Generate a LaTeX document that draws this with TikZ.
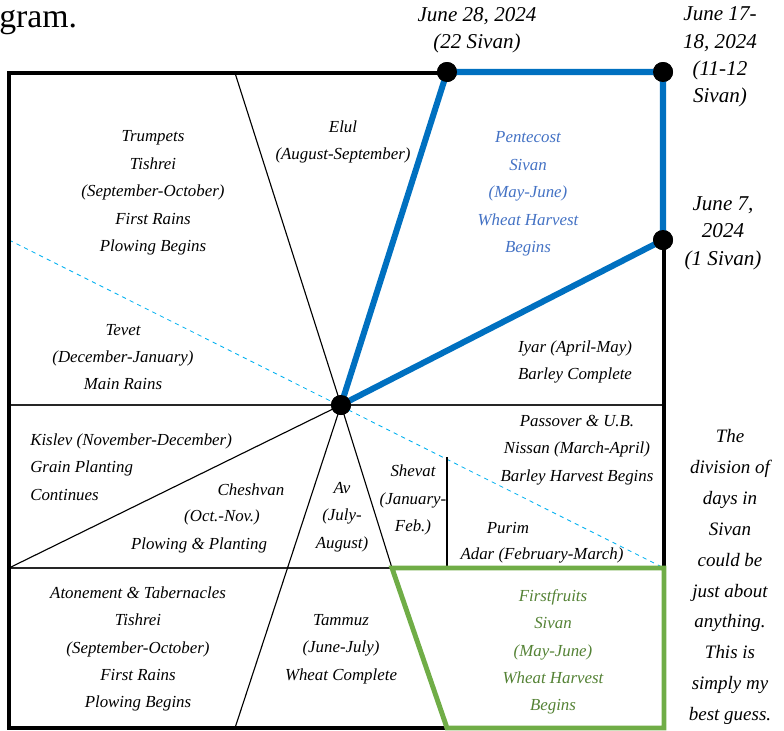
\documentclass[tikz,border=0pt]{standalone}
\usepackage{fontspec}
\setmainfont{Liberation Serif}
\usepackage{xcolor}
\usetikzlibrary{positioning}
\definecolor{pentblue}{HTML}{0070C0}
\definecolor{penttext}{HTML}{4472C4}
\definecolor{fruitgreen}{HTML}{70AD47}
\definecolor{fruittext}{HTML}{548235}
\definecolor{dashcyan}{HTML}{00B0F0}
\tikzset{every node/.style={align=center, inner sep=0pt}}
\tikzset{month/.style={font=\itshape\fontsize{12}{19.5}\selectfont}}
\tikzset{datetext/.style={font=\itshape\fontsize{15}{19.5}\selectfont}}
\tikzset{note/.style={font=\itshape\fontsize{13.5}{22}\selectfont}}
\tikzset{frame/.style={line width=2.5pt}}
\tikzset{divider/.style={line width=0.8pt}}
\tikzset{level/.style={line width=1.1pt, black!85}}
\tikzset{dot/.style={circle, fill=black, minimum size=0.5cm, inner sep=0pt}}
\tikzset{bluepath/.style={pentblue, line width=4.3pt, line join=round}}
\tikzset{greenbox/.style={fruitgreen, line width=3.5pt, line join=miter}}
\tikzset{dashline/.style={dashcyan, dashed, line width=0.6pt}}

\begin{document}
\begin{tikzpicture}[x=0.025cm, y=-0.025cm]
    \useasboundingbox (0,0) rectangle (784,731);

    % corners and ends of the dividing lines
    \coordinate (tl) at (9,73);
    \coordinate (tr) at (664,73);
    \coordinate (br) at (664,728);
    \coordinate (bl) at (9,728);
    \coordinate (elultop) at (235,73);
    \coordinate (tammbot) at (235,728);
    \coordinate (midleft) at (9,405);
    \coordinate (midright) at (664,405);
    \coordinate (lowleft) at (9,568);
    \coordinate (greentl) at (392,568);
    \coordinate (greentr) at (664,568);
    \coordinate (greenbl) at (447,728);
    \coordinate (dashleft) at (9,240);
    \coordinate (dashright) at (664,568);
    \coordinate (shevtop) at (447,457);
    \coordinate (shevbot) at (447,568);

    \node[dot] (hub) at (341,405) {};
    \node[dot] (d28) at (447,72) {};
    \node[dot] (d17) at (663,72) {};
    \node[dot] (d7) at (663,240) {};

    \draw [dashline] (dashleft) -- (dashright);

    \draw [level] (midleft) -- (midright);
    \draw [level] (lowleft) -- (greentl);
    \draw [divider] (elultop) -- (hub.center);
    \draw [divider] (hub.center) -- (tammbot);
    \draw [divider] (hub.center) -- (lowleft);
    \draw [divider] (hub.center) -- (greentl);
    \draw [divider] (shevtop) -- (shevbot);

    \draw [frame] (tl) rectangle (br);

    \draw [greenbox] (greentl) -- (greentr) -- (br) -- (greenbl) -- cycle;

    \draw [bluepath] (hub.center) -- (d28.center) -- (d17.center) -- (d7.center) -- cycle;

    \node[dot] at (hub) {};
    \node[dot] at (d28) {};
    \node[dot] at (d17) {};
    \node[dot] at (d7) {};

    \node[font=\fontsize{24}{24}\selectfont, anchor=base west] (gram) at (-1,27) {gram.};

    \node[datetext] (date28) at (477,30) {June 28, 2024\\(22 Sivan)};
    \node[datetext] (date17) at (720,57) {June 17-\\18, 2024\\(11-12\\Sivan)};
    \node[datetext] (date7) at (723,233) {June 7,\\2024\\(1 Sivan)};

    \node[month] (trumpets) at (153,193) {Trumpets\\Tishrei\\(September-October)\\First Rains\\Plowing Begins};
    \node[month] (elul) at (343,142) {Elul\\(August-September)};
    \node[month, text=penttext] (pentecost) at (528,194) {Pentecost\\Sivan\\(May-June)\\Wheat Harvest\\Begins};
    \node[month] (tevet) at (123,357) {Tevet\\(December-January)\\Main Rains};
    \node[month] (iyar) at (575,362) {Iyar (April-May)\\Barley Complete};
    \node[month, align=left, anchor=west] (kislev) at (30,467) {Kislev (November-December)\\Grain Planting\\Continues};
    \node[month] (cheshvan) at (251,490) {Cheshvan};
    \node[month] (cheshmonths) at (222,517) {(Oct.-Nov.)};
    \node[month] (cheshwork) at (199,545) {Plowing \& Planting};
    \node[month] (av) at (342,517) {Av\\(July-\\August)};
    \node[month] (shevat) at (413,500) {Shevat\\(January-\\Feb.)};
    \node[month] (passover) at (577,450) {Passover \& U.B.\\Nissan (March-April)\\Barley Harvest Begins};
    \node[month] (purim) at (508,528) {Purim};
    \node[month] (adar) at (542,555) {Adar (February-March)};
    \node[month] (atonement) at (138,649) {Atonement \& Tabernacles\\Tishrei\\(September-October)\\First Rains\\Plowing Begins};
    \node[month] (tammuz) at (341,649) {Tammuz\\(June-July)\\Wheat Complete};
    \node[month, text=fruittext] (firstfruits) at (553,652) {Firstfruits\\Sivan\\(May-June)\\Wheat Harvest\\Begins};

    \node[note] (guess) at (730,577) {The\\division of\\days in\\Sivan\\could be\\just about\\anything.\\This is\\simply my\\best guess.};
\end{tikzpicture}
\end{document}
